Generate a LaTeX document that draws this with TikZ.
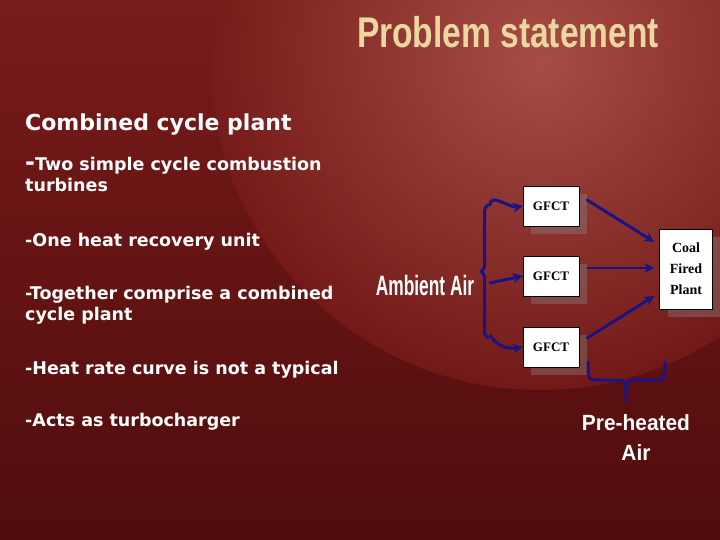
\documentclass[tikz,border=0pt]{standalone}
\usepackage{fontspec}
\setmainfont{DejaVu Sans}
\newfontfamily\narrowfont{Liberation Sans}
\newfontfamily\boxfont{Liberation Serif}
\usetikzlibrary{arrows.meta,decorations.pathreplacing,calc}
\definecolor{bgdark}{RGB}{80,12,12}
\definecolor{bgmid}{RGB}{120,28,26}
\definecolor{bglight}{RGB}{180,90,82}
\definecolor{titlecol}{RGB}{235,215,160}
\definecolor{flow}{RGB}{25,20,130}
\tikzset{
  gfct/.style={draw=black, fill=white, minimum width=56pt, minimum height=40pt, font=\boxfont\bfseries\fontsize{13}{14}\selectfont, align=center},
  flowarrow/.style={flow, line width=3pt, -{Stealth[length=10pt,width=10pt]}},
  brace/.style={flow, line width=3pt, decorate, decoration={brace, amplitude=7pt}},
  shadowbox/.style={fill=black!45, opacity=0.35},
  bullet/.style={anchor=north west, text=white, font=\bfseries\fontsize{17.5}{21}\selectfont, align=left, inner sep=0pt}
}
\begin{document}
\begin{tikzpicture}[x=1pt, y=-1pt, line join=round, line cap=round]
	\useasboundingbox (0,0) rectangle (720,540);
	% background
	\shade[top color=bgmid, bottom color=bgdark] (0,0) rectangle (720,540);
	\shade[inner color=bglight, outer color=bgmid, opacity=0.8] (540,60) circle (330);
	\shade[inner color=bgmid, outer color=bgdark, opacity=0] (0,0) rectangle (1,1);
	% title and text
	\node (title) at (508,32) {\narrowfont\bfseries\color{titlecol}\scalebox{0.78}[1]{\fontsize{43}{45}\selectfont Problem statement}};
	\node[bullet, font=\bfseries\fontsize{22}{24}\selectfont] (head) at (25,114) {Combined cycle plant};
	\node[bullet] (one) at (25,157) {{\fontsize{24}{21}\selectfont -}Two simple cycle combustion\\turbines};
	\node[bullet] (two) at (25,233) {-One heat recovery unit};
	\node[bullet] (three) at (25,286) {-Together comprise a combined\\cycle plant};
	\node[bullet] (four) at (25,361) {-Heat rate curve is not a typical};
	\node[bullet] (five) at (25,413) {-Acts as turbocharger};
	% shadows
	\fill[shadowbox] (531,194) rectangle (587,234);
	\fill[shadowbox] (531,264) rectangle (587,304);
	\fill[shadowbox] (531,335) rectangle (587,375);
	\fill[shadowbox] (668,237) rectangle (721,317);
	% boxes
	\node[gfct] (g1) at (551,206) {GFCT};
	\node[gfct] (g2) at (551,276) {GFCT};
	\node[gfct] (g3) at (551,347) {GFCT};
	\node[gfct, minimum width=53pt, minimum height=80pt, font=\boxfont\bfseries\fontsize{14}{21}\selectfont] (coal) at (686,269) {Coal\\Fired\\Plant};
	% ambient air
	\node (amb) at (425,285) {\narrowfont\bfseries\color{white}\scalebox{0.62}[1]{\fontsize{28}{30}\selectfont Ambient Air}};
	\coordinate (bt) at (488,205);
	\coordinate (bb) at (488,338);
	\draw[brace] (bb) -- (bt);
	\draw[flowarrow] (490,205) to[out=90,in=190] (g1.west);
	\draw[flowarrow] (490,283) -- (g2.west);
	\draw[flowarrow] (490,335) to[out=-60,in=190] (g3.west);
	% to plant
	\draw[flowarrow] ($(g1.east)+(8,-6)$) -- ($(coal.west)+(-5,-27)$);
	\draw[flowarrow, line width=1.8pt] ($(g2.east)+(8,-8)$) -- ($(coal.west)+(-5,-1)$);
	\draw[flowarrow] ($(g3.east)+(8,-9)$) -- ($(coal.west)+(-5,27)$);
	% pre-heated
	\coordinate (pl) at (588,362);
	\coordinate (pr) at (665,362);
	\coordinate (pm) at (626,402);
	\draw[flow, line width=3pt] (pl) .. controls (588,380) .. (600,380) -- (614,380)
	  .. controls (626,380) .. (pm) .. controls (626,380) .. (638,380) -- (653,380)
	  .. controls (665,380) .. (pr);
	\node (pre) at (636,423) {\narrowfont\bfseries\color{white}\scalebox{0.95}[1]{\fontsize{22}{24}\selectfont Pre-heated}};
	\node (preair) at (636,453) {\narrowfont\bfseries\color{white}\scalebox{0.95}[1]{\fontsize{22}{24}\selectfont Air}};
\end{tikzpicture}
\end{document}
